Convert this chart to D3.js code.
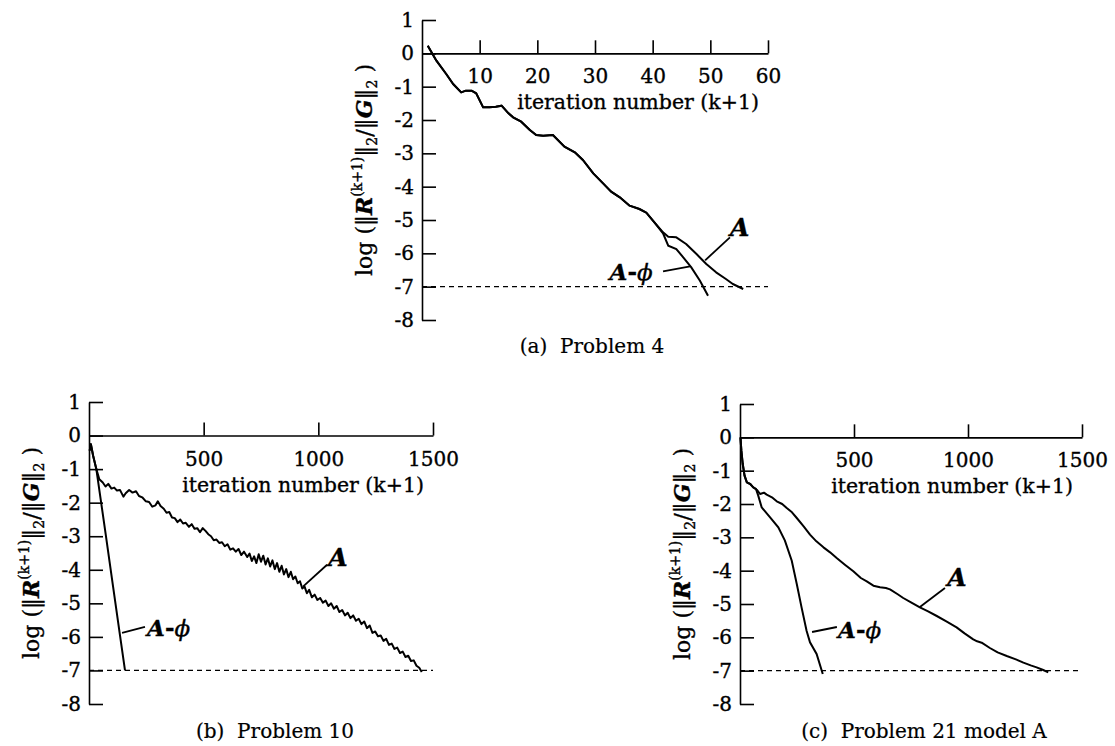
<!DOCTYPE html>
<html>
<head>
<meta charset="utf-8">
<script src="https://cdn.jsdelivr.net/npm/d3@7"></script>
<style>
  body { margin: 0; background: #fff; }
  text { font-family: "DejaVu Serif", serif; fill: #000; stroke: #000; stroke-width: 0.35px; }
</style>
</head>
<body>
<div id="chart"></div>
<script>
var w = 1115;
var h = 746;

// tick labels
var yTicks = [1, 0, -1, -2, -3, -4, -5, -6, -7, -8];
var xTicksSmall = [10, 20, 30, 40, 50, 60];
var xTicksLarge = [500, 1000, 1500];
var tolerance = -7;

// (a) Problem 4
var p4A = [[1,0.23],[2.5,-0.22],[4.2,-0.62],[5.4,-0.92],[6.8,-1.17],[7.6,-1.12],[8.6,-1.12],[9.4,-1.2],
  [10.6,-1.62],[11.7,-1.62],[12.8,-1.6],[13.8,-1.57],[15.0,-1.8],[15.8,-1.92],[17.2,-2.05],[18.7,-2.3],
  [19.8,-2.45],[21,-2.47],[22.7,-2.45],[24.7,-2.8],[26.5,-2.97],[27.9,-3.2],[29.7,-3.6],[31.4,-3.9],
  [32.8,-4.15],[34.3,-4.32],[36.0,-4.57],[37.7,-4.67],[38.9,-4.78],[40.3,-5.07],[41.8,-5.37],[42.7,-5.5],
  [44.1,-5.52],[45.8,-5.72],[47.6,-6.02],[49.3,-6.32],[51,-6.57],[52.7,-6.77],[53.9,-6.92],[55.7,-7.07]];
var p4Aphi = [[1,0.23],[2.5,-0.22],[4.2,-0.62],[5.4,-0.92],[6.8,-1.17],[7.6,-1.12],[8.6,-1.12],[9.4,-1.2],
  [10.6,-1.62],[11.7,-1.62],[12.8,-1.6],[13.8,-1.57],[15.0,-1.8],[15.8,-1.92],[17.2,-2.05],[18.7,-2.3],
  [19.8,-2.45],[21,-2.47],[22.7,-2.45],[24.7,-2.8],[26.5,-2.97],[27.9,-3.2],[29.7,-3.6],[31.4,-3.9],
  [32.8,-4.15],[34.3,-4.32],[36.0,-4.57],[37.7,-4.67],[38.9,-4.78],[40.3,-5.07],[41.8,-5.4],[42.7,-5.77],
  [44.1,-5.87],[45.3,-6.12],[46.7,-6.42],[48.2,-6.82],[49.6,-7.27]];

// (b) Problem 10
var p10A = [[3,-0.45],[8,-0.25],[18,-0.6],[32,-1.0],[45,-1.3],[60,-1.40],[72,-1.52],[84,-1.44],[98,-1.58],
  [110,-1.55],[122,-1.64],[135,-1.62],[150,-1.82],[160,-1.72],[175,-1.62],[190,-1.70],[205,-1.66],
  [218,-1.80],[232,-1.84],[248,-1.96],[262,-1.98],[276,-2.12],[290,-2.08],[300,-1.96],[312,-2.10],
  [326,-2.18],[338,-2.30],[350,-2.28],[362,-2.44],[374,-2.46],[386,-2.58],[398,-2.50],[410,-2.62],
  [422,-2.60],[436,-2.72],[448,-2.64],[460,-2.78],[472,-2.76],[484,-2.88],[496,-2.76],[508,-2.84],
  [520,-2.94],[532,-3.00],[544,-3.12],[556,-3.10],[568,-3.20],[580,-3.18],[592,-3.30],[604,-3.24],
  [616,-3.40],[628,-3.36],[640,-3.46],[652,-3.38],[664,-3.56],[676,-3.46],[690,-3.62],[700,-3.52],
  [710,-3.74],[720,-3.60],[730,-3.80],[740,-3.54],[750,-3.76],[760,-3.58],[770,-3.84],[780,-3.66],
  [790,-3.90],[800,-3.72],[810,-3.98],[820,-3.80],[830,-4.06],[840,-3.88],[850,-4.14],[860,-3.98],
  [870,-4.22],[880,-4.06],[890,-4.28],[900,-4.20],[910,-4.40],[920,-4.34],[930,-4.56],[940,-4.50],
  [950,-4.70],[960,-4.60],[972,-4.82],[984,-4.74],[996,-4.90],[1008,-4.84],[1020,-4.98],[1032,-4.92],
  [1044,-5.08],[1056,-5.00],[1068,-5.16],[1080,-5.08],[1092,-5.26],[1104,-5.20],[1116,-5.36],
  [1128,-5.28],[1140,-5.44],[1152,-5.36],[1164,-5.52],[1176,-5.46],[1188,-5.62],[1200,-5.54],
  [1212,-5.74],[1224,-5.66],[1236,-5.88],[1248,-5.84],[1260,-5.98],[1272,-5.96],[1284,-6.12],
  [1296,-6.06],[1308,-6.24],[1320,-6.20],[1332,-6.36],[1344,-6.32],[1356,-6.48],[1368,-6.44],
  [1380,-6.60],[1392,-6.56],[1404,-6.72],[1416,-6.70],[1428,-6.86],[1440,-6.92],[1451,-7.05]];
var p10Aphi = [[3,-0.45],[8,-0.25],[18,-0.6],[32,-1.0],[73,-2.95],[105,-4.5],[135,-5.95],[157,-7.0]];

// (c) Problem 21 model A
var p21A = [[2,0],[6,-0.4],[12,-0.8],[20,-1.15],[30,-1.35],[45,-1.4],[58,-1.5],[75,-1.58],[88,-1.7],
  [105,-1.66],[117,-1.72],[140,-1.8],[161,-1.92],[185,-2.0],[205,-2.12],[228,-2.25],[249,-2.42],
  [280,-2.68],[307,-2.92],[335,-3.12],[366,-3.3],[395,-3.45],[424,-3.62],[460,-3.82],[497,-4.02],
  [530,-4.22],[556,-4.32],[585,-4.45],[614,-4.5],[640,-4.52],[658,-4.56],[690,-4.7],[716,-4.82],
  [750,-4.95],[789,-5.1],[825,-5.22],[863,-5.36],[905,-5.52],[950,-5.7],[985,-5.88],[1023,-6.06],
  [1040,-6.12],[1060,-6.16],[1096,-6.32],[1130,-6.45],[1170,-6.56],[1210,-6.66],[1243,-6.76],
  [1275,-6.84],[1301,-6.9],[1330,-6.98],[1352,-7.05]];
var p21Aphi = [[2,0],[6,-0.4],[12,-0.8],[20,-1.15],[30,-1.35],[45,-1.4],[58,-1.5],[70,-1.55],[80,-1.75],
  [95,-2.1],[132,-2.4],[168,-2.7],[197,-3.1],[227,-3.7],[249,-4.4],[270,-5.1],[292,-5.8],[307,-6.15],
  [336,-6.5],[363,-7.1]];

var panels = [
  {caption: "(a)\u00a0\u00a0Problem 4", xMax: 60, xTicks: xTicksSmall, A: p4A, Aphi: p4Aphi,
   x0: 422, x1: 768, yTop: 20, yBot: 320, capX: 592, capY: 353,
   labA: [55.1, -5.22], leadA: [[53.4, -5.52], [49.1, -6.21]],
   labPhi: [40.0, -6.57], leadPhi: [[41.8, -6.54], [46.5, -6.39]]},
  {caption: "(b)\u00a0\u00a0Problem 10", xMax: 1500, xTicks: xTicksLarge, A: p10A, Aphi: p10Aphi,
   x0: 89, x1: 433, yTop: 402, yBot: 704, capX: 275, capY: 738,
   labA: [1086, -3.61], leadA: [[1038, -3.85], [933, -4.5]],
   labPhi: [253, -5.73], leadPhi: [[244, -5.7], [144, -5.88]], phiStart: true},
  {caption: "(c)\u00a0\u00a0Problem 21 model A", xMax: 1500, xTicks: xTicksLarge, A: p21A, Aphi: p21Aphi,
   x0: 740, x1: 1082, yTop: 404, yBot: 704, capX: 924, capY: 738,
   labA: [952, -4.19], leadA: [[899, -4.52], [789, -5.09]],
   labPhi: [430, -5.78], leadPhi: [[425, -5.69], [316, -5.84]], phiStart: true}
];

var svg = d3.select("#chart")
            .append("svg")
            .attr("width", w)
            .attr("height", h);

svg.append("rect").attr("width", w).attr("height", h).attr("fill", "#fff");

panels.forEach(function(p) {
  var xScale = d3.scaleLinear().domain([0, p.xMax]).range([p.x0, p.x1]);
  var yScale = d3.scaleLinear().domain([1, -8]).range([p.yTop, p.yBot]);
  var g = svg.append("g");

  // x axis: ticks point up from the zero line, labels below
  var xAxis = d3.axisTop(xScale)
                .tickValues(p.xTicks)
                .tickSize(13)
                .tickSizeOuter(0)
                .tickFormat(function(d) { return String(d); });
  var gx = g.append("g")
            .attr("transform", "translate(0," + yScale(0) + ")")
            .call(xAxis);
  gx.selectAll("text")
    .attr("y", 30)
    .attr("dy", 0)
    .style("font-size", "20px")
    .style("font-family", "DejaVu Serif");

  // y axis: ticks point right, labels on the left
  var yAxis = d3.axisRight(yScale)
                .tickValues(yTicks)
                .tickSize(14)
                .tickSizeOuter(0)
                .tickFormat(function(d) { return String(d); });
  var gy = g.append("g")
            .attr("transform", "translate(" + p.x0 + ",0)")
            .call(yAxis);
  gy.selectAll("text")
    .attr("x", -8)
    .attr("text-anchor", "end")
    .style("font-size", "20px")
    .style("font-family", "DejaVu Serif");

  g.selectAll(".domain, .tick line")
   .attr("stroke", "#000")
   .attr("stroke-width", 1.6);

  // x axis title
  g.append("text")
   .attr("x", p.x1 - 9)
   .attr("y", yScale(0) + 56)
   .attr("text-anchor", "end")
   .style("font-size", "20.5px")
   .text("iteration number (k+1)");

  // y axis title
  var yl = g.append("text")
            .attr("transform", "translate(" + (p.x0 - 50) + "," + yScale(-3.5) + ") rotate(-90)")
            .attr("text-anchor", "middle")
            .style("font-size", "22px");
  yl.append("tspan").text("log (\u2016");
  yl.append("tspan").style("font-weight", "bold").style("font-style", "italic").text("R");
  yl.append("tspan").attr("dy", -10).style("font-size", "14px").text("(k+1)");
  yl.append("tspan").attr("dy", 10).text("\u2016");
  yl.append("tspan").attr("dy", 5).style("font-size", "14px").text("2");
  yl.append("tspan").attr("dy", -5).text("/\u2016");
  yl.append("tspan").style("font-weight", "bold").style("font-style", "italic").text("G");
  yl.append("tspan").text("\u2016");
  yl.append("tspan").attr("dy", 5).style("font-size", "14px").text("2");
  yl.append("tspan").attr("dy", -5).text(" )");

  // convergence threshold
  g.append("line")
   .attr("x1", xScale(0))
   .attr("x2", xScale(p.xMax))
   .attr("y1", yScale(tolerance))
   .attr("y2", yScale(tolerance))
   .attr("stroke", "#000")
   .attr("stroke-width", 1.3)
   .attr("stroke-dasharray", "5,4");

  var line = d3.line()
               .x(function(d) { return xScale(d[0]); })
               .y(function(d) { return yScale(d[1]); });

  g.append("path")
   .datum(p.Aphi)
   .attr("d", line)
   .attr("fill", "none")
   .attr("stroke", "#000")
   .attr("stroke-width", 2);

  g.append("path")
   .datum(p.A)
   .attr("d", line)
   .attr("fill", "none")
   .attr("stroke", "#000")
   .attr("stroke-width", 2)
   .attr("stroke-linejoin", "round");

  // curve labels with leader lines
  g.append("line")
   .attr("x1", xScale(p.leadA[0][0])).attr("y1", yScale(p.leadA[0][1]))
   .attr("x2", xScale(p.leadA[1][0])).attr("y2", yScale(p.leadA[1][1]))
   .attr("stroke", "#000").attr("stroke-width", 1.8);
  g.append("text")
   .attr("x", xScale(p.labA[0]))
   .attr("y", yScale(p.labA[1]) + 9)
   .attr("text-anchor", "middle")
   .style("font-size", "25px")
   .style("font-weight", "bold")
   .style("font-style", "italic")
   .text("A");

  g.append("line")
   .attr("x1", xScale(p.leadPhi[0][0])).attr("y1", yScale(p.leadPhi[0][1]))
   .attr("x2", xScale(p.leadPhi[1][0])).attr("y2", yScale(p.leadPhi[1][1]))
   .attr("stroke", "#000").attr("stroke-width", 1.8);
  var tp = g.append("text")
            .attr("x", xScale(p.labPhi[0]))
            .attr("y", yScale(p.labPhi[1]) + 8)
            .attr("text-anchor", p.phiStart ? "start" : "end")
            .style("font-size", "23px");
  tp.append("tspan").style("font-weight", "bold").style("font-style", "italic").text("A");
  tp.append("tspan").style("font-weight", "bold").text("-");
  tp.append("tspan").style("font-style", "italic").text("\u03d5");

  // caption
  g.append("text")
   .attr("x", p.capX)
   .attr("y", p.capY)
   .attr("text-anchor", "middle")
   .style("font-size", "20px")
   .style("stroke-width", "0.2px")
   .text(p.caption);
});
</script>
</body>
</html>
